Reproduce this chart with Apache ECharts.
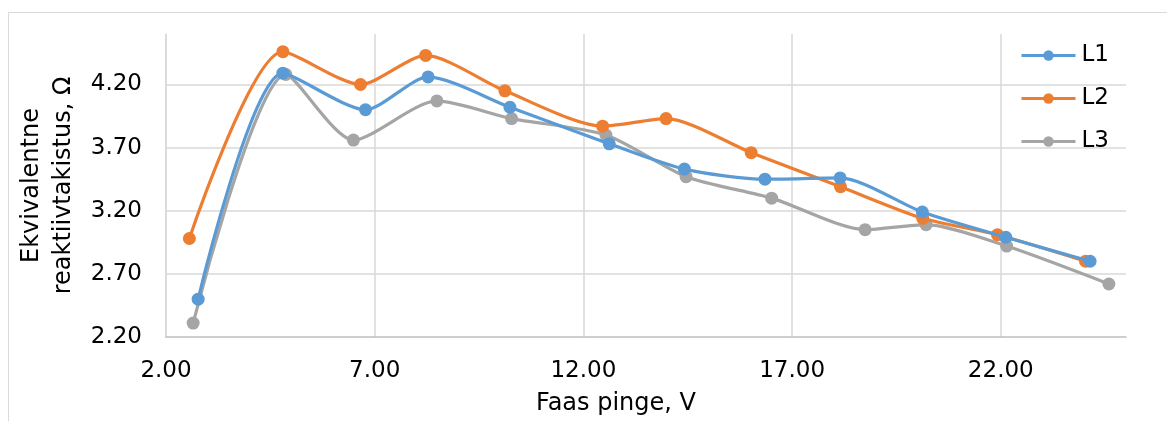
<!DOCTYPE html>
<html>
<head>
<meta charset="utf-8">
<script src="https://cdn.jsdelivr.net/npm/echarts@6/dist/echarts.min.js"></script>
<style>html,body{margin:0;padding:0;background:#fff}#c{width:1167px;height:421px}</style>
</head>
<body>
<div id="c"></div>
<script>
const seriesNames = ['L1', 'L2', 'L3'];
const l1X = [2.77, 4.80, 6.78, 8.28, 10.24, 12.62, 14.42, 16.35, 18.15, 20.12, 22.12, 24.14];
const l1Y = [2.50, 4.29, 4.00, 4.26, 4.02, 3.73, 3.53, 3.45, 3.46, 3.19, 2.99, 2.80];
const l2X = [2.56, 4.80, 6.66, 8.22, 10.12, 12.46, 13.98, 16.02, 18.16, 20.13, 21.92, 24.03];
const l2Y = [2.98, 4.46, 4.20, 4.43, 4.15, 3.87, 3.93, 3.66, 3.39, 3.14, 3.01, 2.80];
const l3X = [2.65, 4.87, 6.49, 8.49, 10.28, 12.54, 14.46, 16.51, 18.75, 20.21, 22.14, 24.59];
const l3Y = [2.31, 4.28, 3.76, 4.07, 3.93, 3.80, 3.47, 3.30, 3.05, 3.09, 2.92, 2.62];
const colors = ['#5B9BD5', '#ED7D31', '#A5A5A5'];
const xTitle = 'Faas pinge, V';
const yTitle = 'Ekvivalentne\nreaktiivtakistus, Ω';

const pairs = (xs, ys) => xs.map((x, i) => [x, ys[i]]);
const allData = [pairs(l1X, l1Y), pairs(l2X, l2Y), pairs(l3X, l3Y)];

const font = 'DejaVu Sans, Verdana, sans-serif';
const chart = echarts.init(document.getElementById('c'), null, {renderer: 'canvas'});
chart.setOption({
  animation: false,
  backgroundColor: '#fff',
  graphic: [{
    type: 'rect', z: -1,
    shape: {x: 8.5, y: 12.5, width: 1300, height: 600},
    style: {fill: 'none', stroke: '#D9D9D9', lineWidth: 1}
  }],
  grid: {left: 166, right: 41, top: 34, bottom: 79},
  legend: {
    orient: 'vertical', left: 1020, top: 44, padding: 0,
    itemWidth: 54, itemHeight: 13, itemGap: 20,
    data: seriesNames,
    lineStyle: {width: 3},
    textStyle: {fontFamily: font, fontSize: 23, color: '#000', lineHeight: 22, padding: [0, 0, 0, 1]}
  },
  xAxis: {
    type: 'value', min: 2, max: 25, interval: 5,
    name: xTitle, nameLocation: 'middle', nameGap: 55,
    nameTextStyle: {fontFamily: font, fontSize: 24, color: '#000', padding: [0, 60, 0, 0]},
    axisLine: {show: true, lineStyle: {color: '#BFBFBF', width: 1.5}},
    axisTick: {show: false},
    axisLabel: {fontFamily: font, fontSize: 23, color: '#000', margin: 23,
      showMaxLabel: false, formatter: v => v.toFixed(2)},
    splitLine: {show: true, showMaxLine: false, lineStyle: {color: '#D9D9D9', width: 1.5}}
  },
  yAxis: {
    type: 'value', min: 2.2, max: 4.6, interval: 0.5,
    name: yTitle, nameLocation: 'middle', nameGap: 78, nameRotate: 90,
    nameTextStyle: {fontFamily: font, fontSize: 24, color: '#000', lineHeight: 32},
    axisLine: {show: true, lineStyle: {color: '#D9D9D9', width: 1.5}},
    axisTick: {show: false},
    axisLabel: {fontFamily: font, fontSize: 23, color: '#000', margin: 24,
      showMaxLabel: false, formatter: v => v.toFixed(2)},
    splitLine: {show: true, showMaxLine: false, showMinLine: false, lineStyle: {color: '#D9D9D9', width: 1.5}}
  },
  series: seriesNames.map((n, i) => ({
    name: n, type: 'line', data: allData[i], smooth: 0.25,
    symbol: 'circle', symbolSize: 13, showAllSymbol: true,
    itemStyle: {color: colors[i]},
    lineStyle: {color: colors[i], width: 3.2},
    z: 3 - i
  }))
});
</script>
</body>
</html>
